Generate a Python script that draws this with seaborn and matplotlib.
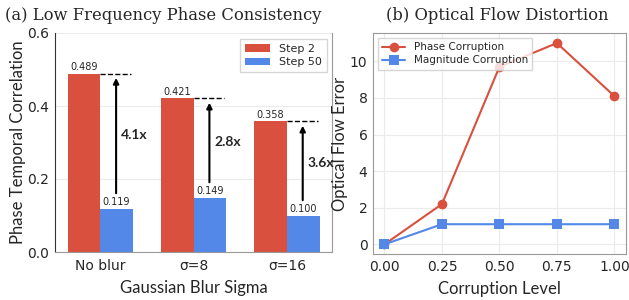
import matplotlib
matplotlib.use("Agg")
import matplotlib.pyplot as plt
import seaborn as sns
import pandas as pd
import numpy as np

# ---- data ----
blur_levels = ["No blur", "σ=8", "σ=16"]
step2_vals = [0.489, 0.421, 0.358]
step50_vals = [0.119, 0.149, 0.100]
ratio_labels = ["4.1x", "2.8x", "3.6x"]
series_names = ["Step 2", "Step 50"]

corruption = [0.00, 0.25, 0.50, 0.75, 1.00]
phase_err = [0.0, 2.2, 9.7, 11.0, 8.1]
mag_err = [0.0, 1.1, 1.1, 1.1, 1.1]
line_names = ["Phase Corruption", "Magnitude Corruption"]

RED = "#d9503f"
BLUE = "#5387e8"

sns.set_style("white")
plt.rcParams["font.family"] = ["DejaVu Sans"]

fig = plt.figure(figsize=(6.29, 3.0), dpi=100)
ax1 = fig.add_axes([0.0874, 0.16, 0.4406, 0.73])
ax2 = fig.add_axes([0.593, 0.152, 0.402, 0.738])

# ---- left: bars ----
df = pd.DataFrame({
    "blur": blur_levels * 2,
    "val": step2_vals + step50_vals,
    "series": [series_names[0]] * 3 + [series_names[1]] * 3,
})
sns.barplot(data=df, x="blur", y="val", hue="series", order=blur_levels,
            hue_order=series_names, palette=[RED, BLUE], width=0.7,
            saturation=1, ax=ax1, edgecolor="none", legend=True)
ax1.set_ylim(0, 0.6)
ax1.set_yticks([0.0, 0.2, 0.4, 0.6])
ax1.set_yticklabels(["0.0", "0.2", "0.4", "0.6"])
ax1.yaxis.grid(True, color="#ebebeb", lw=0.8)
ax1.set_axisbelow(True)
for i in range(3):
    a, b = step2_vals[i], step50_vals[i]
    ax1.text(i - 0.175, a + 0.005, f"{a:.3f}", ha="center", va="bottom", fontsize=7)
    ax1.text(i + 0.175, b + 0.005, f"{b:.3f}", ha="center", va="bottom", fontsize=7)
    ax1.plot([i, i + 0.33], [a, a], ls="--", color="black", lw=1)
    ax1.annotate("", xy=(i + 0.17, a - 0.012), xytext=(i + 0.17, b + 0.042),
                 arrowprops=dict(arrowstyle="-|>", color="black", lw=1.5,
                                 mutation_scale=8, shrinkA=0, shrinkB=0))
    ax1.text(i + 0.22, (a + b + 0.042) / 2 - 0.005, ratio_labels[i], ha="left", va="center",
             fontsize=10, fontweight="bold", family="Lato")
ax1.set_xlabel("Gaussian Blur Sigma", fontsize=12, family="Lato", labelpad=5)
ax1.set_ylabel("Phase Temporal Correlation", fontsize=12, family="Lato", labelpad=1)
ax1.set_title("(a) Low Frequency Phase Consistency", fontsize=11.8, family="DejaVu Serif",
              pad=9, x=0.39)
ax1.tick_params(axis="both", labelsize=10, length=2, pad=2)
ax1.tick_params(axis="x", length=3)
ax1.spines["top"].set_visible(False)
ax1.spines["left"].set_color("#333333")
for s in ["bottom", "right"]:
    ax1.spines[s].set_color("#999999")
ax1.legend(loc="upper right", fontsize=8, frameon=True, edgecolor="#cccccc",
           fancybox=False, handlelength=2.2, borderpad=0.45, labelspacing=0.35)

# ---- right: lines ----
dl = pd.DataFrame({
    "level": corruption * 2,
    "err": phase_err + mag_err,
    "kind": [line_names[0]] * 5 + [line_names[1]] * 5,
})
sns.lineplot(data=dl, x="level", y="err", hue="kind", style="kind",
             hue_order=line_names, style_order=line_names,
             palette=[RED, BLUE], markers=["o", "s"], dashes=False,
             markersize=7, markeredgewidth=0, lw=1.5, ax=ax2)
ax2.set_xticks(corruption)
ax2.set_xticklabels(["0.00", "0.25", "0.50", "0.75", "1.00"])
ax2.set_yticks([0, 2, 4, 6, 8, 10])
ax2.grid(True, color="#ebebeb", lw=0.8)
ax2.set_axisbelow(True)
ax2.set_xlabel("Corruption Level", fontsize=12, family="Lato", labelpad=5)
ax2.set_ylabel("Optical Flow Error", fontsize=12, family="Lato", labelpad=1)
ax2.set_title("(b) Optical Flow Distortion", fontsize=11.8, family="DejaVu Serif", pad=9, x=0.49)
ax2.tick_params(axis="both", labelsize=10, length=2, pad=2)
for s in ax2.spines.values():
    s.set_color("#999999")
ax2.legend(loc="upper left", fontsize=7.5, frameon=True, edgecolor="#cccccc",
           fancybox=False, borderpad=0.4, handlelength=2.2, labelspacing=0.3, title=None)

fig.savefig("out.png", dpi=100)
